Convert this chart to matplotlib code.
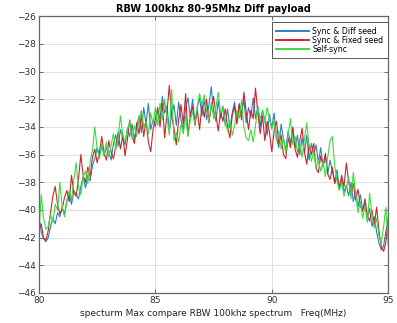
import numpy as np
import matplotlib
matplotlib.use("Agg")
import matplotlib.pyplot as plt

freq = np.round(np.arange(80.0, 95.0001, 0.1), 1)

sync_diff = [
    -40.5, -41.6, -42.1, -42.3, -42.0, -41.2, -40.6, -41.0, -40.2, -40.5,
    -39.8, -40.3, -39.3, -38.8, -39.6, -38.6, -38.9, -39.2, -38.3, -37.6,
    -38.4, -37.5, -37.9, -36.8, -36.3, -35.5, -36.0, -35.4, -36.1, -35.5,
    -35.8, -36.4, -35.2, -34.6, -35.4, -34.2, -34.8, -35.3, -34.1, -34.7,
    -33.8, -34.9, -34.0, -33.2, -34.4, -32.6, -33.8, -32.3, -34.2, -33.5,
    -34.0, -32.8, -33.4, -31.8, -33.0, -32.5, -34.3, -33.1, -32.4, -33.9,
    -32.2, -33.5, -34.2, -32.6, -31.9, -33.3, -32.0, -33.7, -32.6, -31.9,
    -33.2, -32.0, -33.5, -32.4, -31.1, -32.9, -33.6, -32.1, -33.4, -32.5,
    -33.9, -32.7, -34.1, -33.0, -32.2, -33.6, -32.3, -33.0, -32.0, -33.7,
    -32.6, -33.3, -31.9, -33.4, -32.5, -34.0, -32.8, -33.5, -34.6, -33.1,
    -34.1, -33.0, -34.8, -35.5, -33.8, -34.9, -35.7, -34.3, -35.2, -34.0,
    -35.5, -34.6, -36.0, -34.8, -35.9, -34.6, -36.4, -35.2, -36.0, -35.3,
    -36.6, -35.5, -36.9, -36.1, -37.4, -36.4, -37.2, -38.0, -37.1, -38.5,
    -37.8, -38.7, -38.2, -39.0, -38.0, -39.4, -38.6, -39.8, -38.9, -40.0,
    -39.5, -40.6, -39.9, -41.2, -40.5, -41.6, -42.4, -42.9, -42.6, -41.5,
    -40.8,
]

sync_fixed = [
    -41.4, -41.0, -42.0, -42.2, -41.5, -40.2, -39.0, -38.3, -39.6, -40.3,
    -39.9, -39.1, -38.6, -39.4, -37.5, -38.8, -39.0, -37.8, -36.0, -37.5,
    -38.0, -36.9, -37.6, -36.2, -35.6, -36.6, -35.8, -34.7, -35.9, -36.4,
    -35.0, -35.8, -36.3, -35.4, -34.4, -35.6, -34.6, -36.1, -34.9, -33.5,
    -34.6, -35.2, -33.7, -34.5, -33.1, -34.7, -33.5, -35.1, -35.8, -34.2,
    -33.4, -32.6, -34.0, -32.3, -34.8, -32.9, -31.0, -33.2, -34.1, -35.3,
    -33.5, -32.4, -33.8, -31.6, -34.6, -33.2, -32.5, -33.9, -32.8, -34.2,
    -32.4, -33.3, -32.0, -33.7, -32.6, -31.8, -33.1, -34.3, -32.9, -33.6,
    -32.7, -34.0, -34.8, -33.2, -32.5, -33.8, -32.4, -33.5, -31.5, -32.9,
    -34.2, -32.8, -33.4, -31.2, -33.0, -34.5, -33.2, -35.0, -33.6, -34.4,
    -35.8, -34.3, -33.6, -35.2, -34.6, -36.0, -36.3, -34.8, -35.5, -34.1,
    -35.6, -36.2, -35.0, -34.1, -35.8, -36.7, -35.3, -36.0, -35.2, -37.0,
    -37.3, -36.1, -36.8, -35.9, -37.4, -37.8, -36.9, -38.1, -37.6, -38.4,
    -37.5, -38.3, -36.6, -38.0, -38.9, -38.1, -39.3, -38.5, -39.7, -40.1,
    -39.2, -40.4, -40.8, -40.0, -41.1, -39.8, -41.5, -42.6, -43.0, -42.3,
    -40.5,
]

self_sync = [
    -41.7, -38.9, -40.6, -41.4, -41.2, -40.3, -40.9, -39.6, -40.0, -38.0,
    -39.8, -40.5, -39.4, -38.6, -39.3, -37.8, -36.6, -38.4, -38.9, -37.6,
    -37.2, -38.1, -36.5, -35.7, -34.0, -35.6, -36.3, -35.2, -36.0, -35.1,
    -36.2, -35.3, -34.5, -35.7, -34.8, -33.2, -34.6, -35.1, -34.2, -33.6,
    -34.9, -33.9, -34.7, -33.4, -32.8, -34.0, -33.6, -34.5, -33.0, -33.8,
    -32.6, -33.9, -32.3, -33.5, -32.0, -33.3, -34.6, -31.3, -35.0, -34.4,
    -35.1, -33.8, -34.5, -33.2, -34.7, -33.5, -32.9, -33.8, -32.5, -31.6,
    -32.4, -31.7, -32.8, -33.6, -32.2, -33.4, -32.6, -31.5, -33.0, -32.7,
    -33.6, -34.3, -33.5, -34.6, -33.9, -32.8, -33.4, -32.1, -34.0, -34.8,
    -35.0, -34.2, -35.1, -33.9, -32.6, -33.4, -32.8, -33.7, -32.6, -33.4,
    -34.2, -33.5, -35.0, -34.3, -35.6, -34.8, -35.9, -34.6, -33.4, -35.3,
    -34.7, -35.8, -35.1, -36.2, -34.9, -33.7, -35.4, -36.5, -35.8, -37.0,
    -36.4, -37.2, -36.5, -37.6, -36.2, -35.0, -34.7, -36.8, -37.9, -38.6,
    -38.0, -39.0, -38.4, -37.6, -39.2, -37.3, -38.8, -40.2, -39.4, -40.6,
    -39.7, -40.9, -38.8, -40.4, -41.3, -40.6, -41.9, -42.4, -41.2, -39.8,
    -42.6,
]

series_names = ["Sync & Diff seed", "Sync & Fixed seed", "Self-sync"]
series_colors = ["#2f7fc1", "#c8262b", "#3ddc3d"]

x_ticks = [80, 85, 90, 95]
y_ticks = list(range(-46, -25, 2))

fig = plt.figure(figsize=(3.97, 3.23), dpi=100)
ax = fig.add_axes([0.098, 0.093, 0.880, 0.857])

for vals, name, col in zip([sync_diff, sync_fixed, self_sync], series_names, series_colors):
    ax.plot(freq, vals, color=col, lw=0.8, label=name)

ax.set_xlim(80, 95)
ax.set_ylim(-46, -26)
ax.set_xticks(x_ticks)
ax.set_yticks(y_ticks)
ax.grid(True, color="#e0e0e0", lw=0.7)
ax.set_axisbelow(True)
ax.tick_params(direction="in", top=True, right=True, labelsize=6.5,
               length=3, width=0.6, color="#555555", pad=2, labelcolor="#333333")
for s in ax.spines.values():
    s.set_color("#666666")
    s.set_linewidth(0.9)

ax.set_title("RBW 100khz 80-95Mhz Diff payload", fontsize=7, fontweight="bold", pad=3)
ax.set_xlabel("specturm Max compare RBW 100khz spectrum   Freq(MHz)", fontsize=6.5,
              labelpad=3, color="#222222")

leg = ax.legend(loc="upper right", bbox_to_anchor=(0.998, 0.978), fontsize=5.6,
                handlelength=4.2, handletextpad=0.4, labelspacing=0.0,
                borderpad=0.55, fancybox=False, framealpha=1, borderaxespad=0.0)
leg.get_frame().set_edgecolor("#555555")
leg.get_frame().set_linewidth(0.7)
for h in leg.get_lines():
    h.set_linewidth(1.4)

fig.savefig("out.png", dpi=100)
